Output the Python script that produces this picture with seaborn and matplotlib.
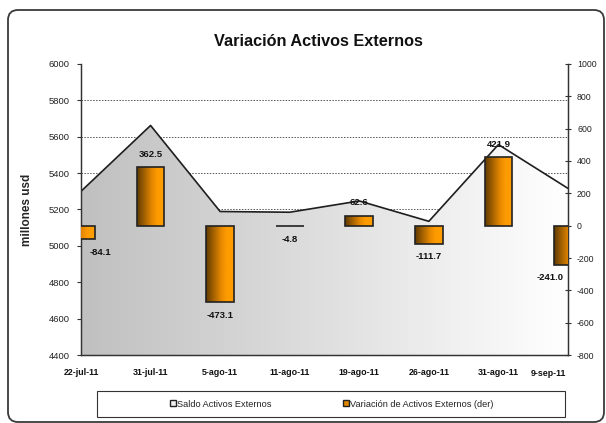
import numpy as np
import pandas as pd
import matplotlib
matplotlib.use("Agg")
import matplotlib.pyplot as plt
import seaborn as sns
from matplotlib.patches import FancyBboxPatch, Rectangle
from matplotlib.lines import Line2D
from matplotlib.colors import LinearSegmentedColormap

# ---- data ----
fechas = ["22-jul-11", "31-jul-11", "5-ago-11", "11-ago-11",
          "19-ago-11", "26-ago-11", "31-ago-11", "9-sep-11"]
saldo = [5300, 5662, 5189, 5185, 5247, 5135, 5557, 5316]
variacion = [-84.1, 362.5, -473.1, -4.8, 62.6, -111.7, 421.9, -241.0]
left_ticks = [4400, 4600, 4800, 5000, 5200, 5400, 5600, 5800, 6000]
right_ticks = [-800, -600, -400, -200, 0, 200, 400, 600, 800, 1000]
grid_levels = [5200, 5400, 5600, 5800]

sns.set_theme(style="white")
plt.rcParams["font.family"] = ["Liberation Sans", "DejaVu Sans"]

df = pd.DataFrame({"fecha": fechas, "saldo": saldo,
                   "variacion": variacion, "pos": np.arange(len(fechas))})
n = len(fechas)

W, H = 606, 423
fig = plt.figure(figsize=(W / 100, H / 100), dpi=100)
fig.patch.set_facecolor("white")

ax = fig.add_axes([81 / W, 1 - 355 / H, (568 - 81) / W, (355 - 64) / H])
ax2 = ax.twinx()

# ---- area (left axis) ----
for g in grid_levels:
    ax.axhline(g, color="#555555", lw=0.7, ls=(0, (1.5, 1.5)), zorder=0.5)

poly = ax.fill_between(df["pos"], df["saldo"], 4400, facecolor="none",
                       edgecolor="none", zorder=1)
cmap_area = LinearSegmentedColormap.from_list("area", ["#c0c0c0", "#dfdfdf", "#ffffff"])
grad = np.linspace(0, 1, 256).reshape(1, -1)
im = ax.imshow(grad, cmap=cmap_area, extent=[0, 7, 4400, 6000], aspect="auto",
               zorder=1, interpolation="bicubic")
im.set_clip_path(poly.get_paths()[0], transform=ax.transData)
sns.lineplot(data=df, x="pos", y="saldo", ax=ax, color="#1e1e1e", lw=1.2,
             zorder=2, legend=False)

# ---- bars (right axis) ----
sns.barplot(data=df, x="fecha", y="variacion", order=fechas, ax=ax2,
            width=0.4, color="#ff9900", edgecolor="#222222", linewidth=1.2,
            zorder=3)
cmap_bar = LinearSegmentedColormap.from_list(
    "bar", [(0, "#603a00"), (0.55, "#e88a00"), (0.75, "#ff9c00"), (1, "#ff9c00")])
for p in ax2.patches:
    x0, y0 = p.get_x(), p.get_y()
    w, h = p.get_width(), p.get_height()
    ylo, yhi = min(y0, y0 + h), max(y0, y0 + h)
    bim = ax2.imshow(grad, cmap=cmap_bar, extent=[x0, x0 + w, ylo, yhi],
                     aspect="auto", zorder=2.9, interpolation="bicubic")
    bim.set_clip_box(ax2.bbox)
    bim.set_clip_path(p.get_path(), p.get_transform())
    p.set_facecolor("none")
    p.set_clip_on(True)
    p.set_clip_box(ax2.bbox)

# data labels
for i, v in enumerate(variacion):
    dx = 19 if i == 0 else (-18 if i == n - 1 else 0)
    dy = 13 if v > 0 else -13
    ax2.annotate(f"{v:.1f}", xy=(i, v), xytext=(dx * 0.72, dy * 0.72),
                 textcoords="offset points", ha="center", va="center",
                 fontsize=6.8, fontweight="bold", color="#111111", zorder=5)

# ---- axes formatting ----
ax.set_xlim(0, 7)
ax.set_ylim(4400, 6000)
ax2.set_ylim(-800, 1000)
ax.set_yticks(left_ticks)
ax.set_yticklabels([str(t) for t in left_ticks])
ax2.set_yticks(right_ticks)
ax2.set_yticklabels([str(t) for t in right_ticks])
ax.set_xticks(np.arange(n))
ax.set_xticklabels(fechas[:-1] + [""], fontweight="bold")
# last date label sits slightly inside the right edge, as in the original
ax.annotate(fechas[-1], xy=(n - 1, 0), xycoords=("data", "axes fraction"),
            xytext=(-20 * 0.72, -18.5 * 0.72), textcoords="offset points",
            ha="center", va="center", fontsize=6.4, fontweight="bold",
            color="#111111", annotation_clip=False)
ax.set_xlabel("")
ax2.set_xlabel("")
ax2.set_ylabel("")
ax.set_ylabel("millones usd", fontsize=8.5, fontweight="bold", labelpad=11)

for a in (ax, ax2):
    for s in a.spines.values():
        s.set_color("#333333")
        s.set_linewidth(0.9)
    a.spines["top"].set_visible(False)
    a.grid(False)
ax.tick_params(axis="y", direction="out", length=3, width=0.8, color="#333333",
               labelsize=6.8, pad=5, labelcolor="#222222")
ax.tick_params(axis="x", direction="inout", length=5, width=0.8, color="#333333",
               labelsize=6.4, pad=7.2, labelcolor="#111111")
ax2.tick_params(axis="y", direction="inout", length=5, width=0.8, color="#333333",
                labelsize=6.3, pad=4, labelcolor="#222222")
ax.patch.set_visible(False)

# ---- title ----
fig.text(318 / W, 1 - 42 / H, "Variación Activos Externos", ha="center",
         va="center", fontsize=11.7, fontweight="bold", color="#111111")

# ---- legend ----
fig.add_artist(Rectangle((97 / W, 1 - 417 / H), (565 - 97) / W, 26 / H,
                         transform=fig.transFigure, facecolor="white",
                         edgecolor="#333333", lw=0.8))
handles = [Line2D([], [], ls="none", marker="s", markersize=4.5,
                  markerfacecolor="#f2f2f2", markeredgecolor="#222222", mew=1.0),
           Line2D([], [], ls="none", marker="s", markersize=4.5,
                  markerfacecolor="#e08800", markeredgecolor="#222222", mew=1.0)]
fig.legend(handles, ["Saldo Activos Externos", "Variación de Activos Externos (der)"],
           loc="center", bbox_to_anchor=(332 / W, 1 - 404 / H), ncol=2,
           frameon=False, fontsize=6.6, handlelength=0.5, handletextpad=0.25,
           columnspacing=7.8, labelcolor="#222222")

# ---- outer rounded frame ----
frame = FancyBboxPatch((8 / 100, (H - 422) / 100), (604 - 8) / 100, (422 - 10) / 100,
                       boxstyle="round,pad=0,rounding_size=0.1",
                       transform=fig.dpi_scale_trans, facecolor="none",
                       edgecolor="#3a3a3a", lw=1.3)
fig.add_artist(frame)

fig.savefig("out.png", dpi=100)
